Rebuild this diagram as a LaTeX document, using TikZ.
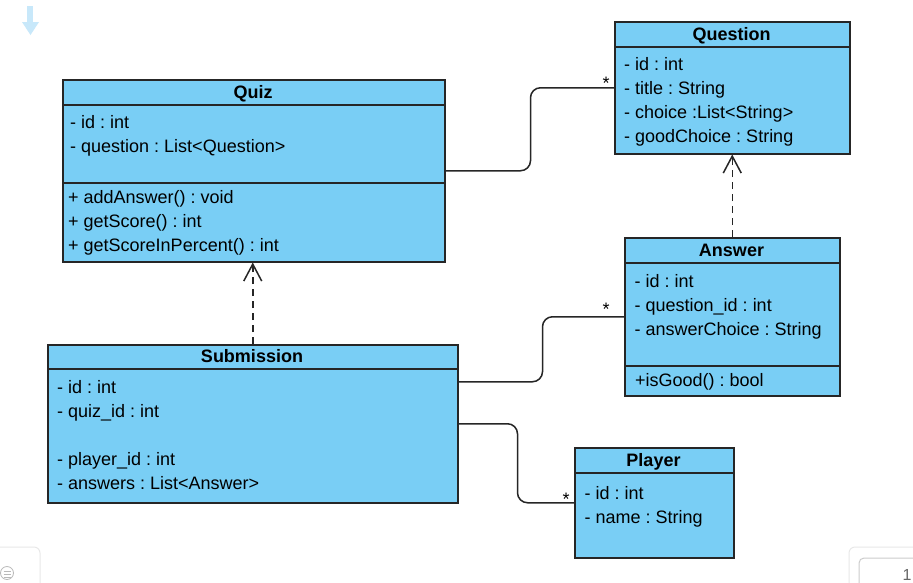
\documentclass[tikz,border=0pt]{standalone}
\usepackage{fontspec}
\setmainfont{Liberation Sans}
\usetikzlibrary{arrows.meta,calc}
\definecolor{fillc}{RGB}{121,206,245}
\definecolor{bordc}{RGB}{38,38,38}
\definecolor{uiblue}{RGB}{200,232,250}
\frenchspacing
\tikzset{
  cls/.style={draw=bordc, fill=fillc, line width=1.5pt, anchor=north west, inner sep=0pt},
  sepline/.style={draw=bordc, line width=1.5pt},
  title/.style={font=\fontsize{18}{22}\selectfont\bfseries, anchor=base, inner sep=0pt},
  attr/.style={font=\fontsize{18}{22}\selectfont, anchor=base west, inner sep=0pt},
  mult/.style={font=\fontsize{18}{22}\selectfont, anchor=base, inner sep=0pt},
  conn/.style={draw=bordc, line width=1.5pt, rounded corners=10pt},
  dep/.style={draw=bordc, line width=1.5pt, dash pattern=on 7pt off 5pt, -{Straight Barb[length=17pt,width=18pt,line width=1.5pt]}},
}
\begin{document}
\begin{tikzpicture}[x=1pt,y=-1pt]
\useasboundingbox (0,0) rectangle (913,582);
\fill[white] (0,0) rectangle (913,582);

% UI artifacts
\fill[uiblue] (27,6) rectangle (33,22);
\fill[uiblue] (22,22) -- (39,22) -- (30.5,35) -- cycle;
\draw[gray!18, line width=1pt, rounded corners=6pt] (-10,547) -- (40,547) -- (40,600);
\draw[gray!55, line width=0.8pt] (7,573) circle (6.5);
\draw[gray!55, line width=0.8pt] (3.5,571) -- (10.5,571) (3.5,574) -- (10.5,574) (3.5,577) -- (10.5,577);
\draw[gray!18, line width=1pt, rounded corners=6pt] (849,600) -- (849,547) -- (930,547);
\draw[gray!40, line width=1pt, rounded corners=5pt] (859,600) -- (859,558) -- (930,558);
\node[font=\fontsize{16}{20}\selectfont, text=gray!80!black, anchor=base, inner sep=0pt] (pagenum) at (907,580) {1};

% Quiz
\node[cls, minimum width=382pt, minimum height=182pt] (quiz) at (62,79) {};
\draw[sepline] (62,105) -- (444,105);
\draw[sepline] (62,183) -- (444,183);
\node[title] (quizt) at (253,98.5) {Quiz};
\node[attr] (q1) at (70,128) {- id : int};
\node[attr] (q2) at (70,152) {- question : List<Question>};
\node[attr] (q3) at (68,203) {+ addAnswer() : void};
\node[attr] (q4) at (68,227) {+ getScore() : int};
\node[attr] (q5) at (68,251) {+ getScoreInPercent() : int};

% Question
\node[cls, minimum width=235pt, minimum height=132pt] (question) at (614,21) {};
\draw[sepline] (614,47) -- (849,47);
\node[title] (questiont) at (731.5,40) {Question};
\node[attr] (u1) at (624,70.5) {- id : int};
\node[attr] (u2) at (624,94.5) {- title : String};
\node[attr] (u3) at (624,118.5) {- choice :List<String>};
\node[attr] (u4) at (624,142.5) {- goodChoice : String};

% Answer
\node[cls, minimum width=215pt, minimum height=158pt] (answer) at (624,237) {};
\draw[sepline] (624,263) -- (839,263);
\draw[sepline] (624,366) -- (839,366);
\node[title] (answert) at (731.5,256) {Answer};
\node[attr] (a1) at (634.5,287.5) {- id : int};
\node[attr] (a2) at (634.5,311.5) {- question\_id : int};
\node[attr] (a3) at (634.5,335.5) {- answerChoice : String};
\node[attr] (a4) at (635,386.5) {+isGood() : bool};

% Submission
\node[cls, minimum width=410pt, minimum height=158pt] (submission) at (47,344) {};
\draw[sepline] (47,369) -- (457,369);
\node[title] (submissiont) at (252,362.5) {Submission};
\node[attr] (s1) at (57,393.5) {- id : int};
\node[attr] (s2) at (57,417.5) {- quiz\_id : int};
\node[attr] (s3) at (57,465.5) {- player\_id : int};
\node[attr] (s4) at (57,489.5) {- answers : List<Answer>};

% Player
\node[cls, minimum width=159pt, minimum height=110pt] (player) at (574,447) {};
\draw[sepline] (574,473) -- (733,473);
\node[title] (playert) at (653.5,466.5) {Player};
\node[attr] (p1) at (584.5,499.5) {- id : int};
\node[attr] (p2) at (584.5,523.5) {- name : String};

% Connectors
\draw[conn] (quiz.east) -- ++(85,0) |- (question.west);
\draw[conn] ([yshift=42pt]submission.east) -- ++(84,0) |- (answer.west);
\draw[conn] (submission.east) -- ++(59,0) |- (player.west);
\draw[dep] (answer.north) -- (question.south);
\draw[dep] (submission.north) -- (submission.north |- quiz.south);

% Multiplicities
\node[mult] (m1) at (606,89) {*};
\node[mult] (m2) at (606,315) {*};
\node[mult] (m3) at (566,505) {*};
\end{tikzpicture}
\end{document}
